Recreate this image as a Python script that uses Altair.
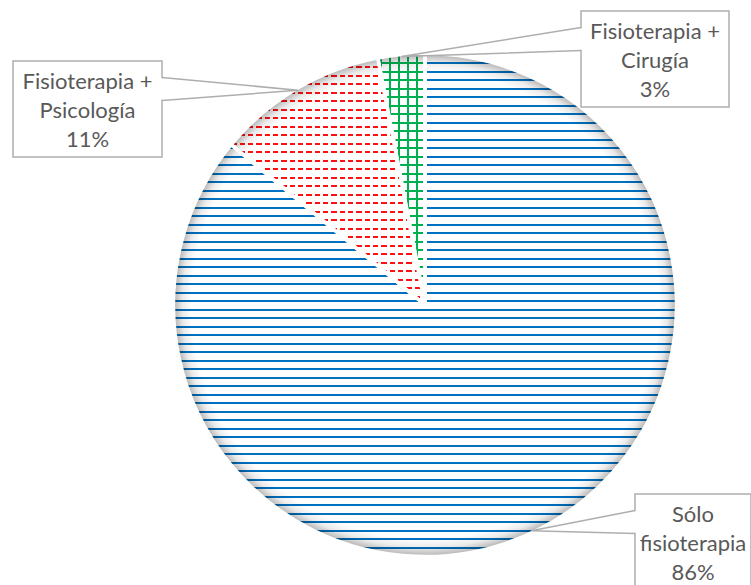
import math

import altair as alt
import pandas as pd

# ---- data -------------------------------------------------------------
categories = ["Sólo fisioterapia", "Fisioterapia + Psicología", "Fisioterapia + Cirugía"]
shares = [86, 11, 3]

# ---- layout / style ---------------------------------------------------
W, H = 751, 585
CX, CY = 425.0, 305.0          # pie centre
R_VIS = 249.5                  # visible pie radius
R = R_VIS + 2.0                # arc radius (outer 2px hidden by the white edge stroke)
ROW0, ROW_STEP = 63.2, 8.5     # horizontal pattern rows
CLEAR = "rgba(255,255,255,0)"

# callout boxes (left, top, right, bottom), one per category
callout_boxes = [(635, 494, 751, 600), (13, 61, 162, 157), (581, 11, 729, 107)]
BOX_GRAY = "#aeaeae"
TEXT_GRAY = "#595959"

total = float(sum(shares))
angles = []
acc = 0.0
for v in shares:
    a0 = acc / total * 2 * math.pi
    acc += v
    angles.append((a0, acc / total * 2 * math.pi))


def arc_bbox(a0, a1, r):
    pts = [(CX, CY),
           (CX + r * math.sin(a0), CY - r * math.cos(a0)),
           (CX + r * math.sin(a1), CY - r * math.cos(a1))]
    for k in range(5):
        a = k * math.pi / 2
        if a0 <= a <= a1:
            pts.append((CX + r * math.sin(a), CY - r * math.cos(a)))
    xs, ys = zip(*pts)
    return min(xs), min(ys), max(xs), max(ys)


def stripe_stops(lo, hi, positions, width, color, gap=CLEAR):
    span = hi - lo
    stops = [(0.0, gap)]
    for p in positions:
        a = (p - width / 2 - lo) / span
        b = (p + width / 2 - lo) / span
        if b <= 0 or a >= 1:
            continue
        a, b = max(a, 0.0), min(b, 1.0)
        stops += [(a, gap), (a, color), (b, color), (b, gap)]
    stops.append((1.0, gap))
    return [{"offset": round(o, 5), "color": c} for o, c in stops]


def h_stripes(bbox, rows, width, color):
    x0, y0, x1, y1 = bbox
    return {"gradient": "linear", "x1": 0, "y1": 0, "x2": 0, "y2": 1,
            "stops": stripe_stops(y0, y1, rows, width, color)}


def v_stripes(bbox, cols, width, color):
    x0, y0, x1, y1 = bbox
    return {"gradient": "linear", "x1": 0, "y1": 0, "x2": 1, "y2": 0,
            "stops": stripe_stops(x0, x1, cols, width, color)}


def rim_shade(bbox):
    # radial shading towards the pie edge, expressed in the slice's box
    x0, y0, x1, y1 = bbox
    w, h = x1 - x0, y1 - y0
    s = max(w, h)
    sx, sy = x0 + (w - s) / 2, y0 + (h - s) / 2
    cx, cy, rr = (CX - sx) / s, (CY - sy) / s, R / s
    f = lambda px: round(1 - px / R, 5)
    stops = [
        {"offset": 0, "color": "rgba(0,0,0,0)"},
        {"offset": f(18), "color": "rgba(0,0,0,0)"},
        {"offset": f(9), "color": "rgba(0,0,0,0.08)"},
        {"offset": f(2), "color": "rgba(0,0,0,0.26)"},
        {"offset": 1, "color": "rgba(0,0,0,0.29)"},
    ]
    return {"gradient": "radial", "x1": cx, "y1": cy, "r1": 0,
            "x2": cx, "y2": cy, "r2": rr, "stops": stops}


rows = [ROW0 + ROW_STEP * k for k in range(-2, 64)]
rows_red = [y + 4.0 for y in rows]
cols_red = [230 + 8.33 * j for j in range(-2, 30)]
cols_green = [390 + 9.0 * j for j in range(-3, 8)]

# ---- slice table ------------------------------------------------------
df = pd.DataFrame({"idx": list(range(len(categories))), "category": categories, "value": shares})

base = (
    alt.Chart(df)
    .transform_joinaggregate(total="sum(value)")
    .transform_calculate(share="datum.value / datum.total")
    .transform_stack(stack="share", groupby=[], as_=["s0", "s1"],
                     sort=[alt.SortField(field="idx", order="ascending")])
)

theta_enc = dict(
    theta=alt.Theta("s0:Q", scale=alt.Scale(domain=[0, 1], range=[0, 2 * math.pi])),
    theta2="s1:Q",
    x=alt.value(CX),
    y=alt.value(CY),
)


def slice_layer(name, fill):
    return (
        base.transform_filter(alt.datum.category == name)
        .mark_arc(outerRadius=R, fill=fill, strokeWidth=0)
        .encode(**theta_enc)
    )


layers = []
pattern_style = {
    categories[0]: [("h", rows, 2.2, "#0070C0")],
    categories[1]: [("h", rows_red, 2.0, "#FF1010"), ("v", cols_red, 3.0, "#FFFFFF")],
    categories[2]: [("h", rows, 2.0, "#00B050"), ("v", cols_green, 1.8, "#00B050")],
}
for name, (a0, a1) in zip(categories, angles):
    bbox = arc_bbox(a0, a1, R)
    for kind, pos, wdt, col in pattern_style[name]:
        grad = h_stripes(bbox, pos, wdt, col) if kind == "h" else v_stripes(bbox, pos, wdt, col)
        layers.append(slice_layer(name, grad))
    layers.append(slice_layer(name, rim_shade(bbox)))

# white separators and edge
layers.append(
    base.mark_arc(outerRadius=R, fillOpacity=0, stroke="white", strokeWidth=3.5, strokeJoin="round")
    .encode(**theta_enc)
)

# ---- callouts ---------------------------------------------------------
def label_text(name, v):
    if " + " in name:
        head = name.replace(" + ", " +\n")
    else:
        head = name.replace(" ", "\n", 1)
    return f"{head}\n{round(100 * v / total)}%"


box_rows, wedge_rows, gap_rows, text_rows = [], [], [], []
for i, (name, v, (a0, a1), (bx0, by0, bx1, by1)) in enumerate(
        zip(categories, shares, angles, callout_boxes)):
    mid = (a0 + a1) / 2
    tipx, tipy = CX + R_VIS * math.sin(mid), CY - R_VIS * math.cos(mid)
    edge = bx1 if (bx0 + bx1) / 2 < CX else bx0
    ya, yb = by0 + 16.5, by0 + 39.5
    box_rows.append({"x0": bx0, "x1": bx1, "y0": by0, "y1": by1})
    wedge_rows += [
        {"cid": i, "ord": 0, "px": edge, "py": ya},
        {"cid": i, "ord": 1, "px": tipx, "py": tipy},
        {"cid": i, "ord": 2, "px": edge, "py": yb},
    ]
    gap_rows.append({"gx": edge, "gy0": ya + 0.8, "gy1": yb - 0.8})
    text_rows.append({"tx": (bx0 + bx1) / 2, "ty": by0 + 28.3, "label": label_text(name, v)})

boxes = alt.Chart(pd.DataFrame(box_rows)).mark_rect(
    fill="white", stroke=BOX_GRAY, strokeWidth=1.5
).encode(
    x=alt.X("x0:Q", scale=None, axis=None), x2="x1:Q",
    y=alt.Y("y0:Q", scale=None, axis=None), y2="y1:Q",
)
gaps = alt.Chart(pd.DataFrame(gap_rows)).mark_rule(color="white", strokeWidth=3).encode(
    x=alt.X("gx:Q", scale=None, axis=None),
    y=alt.Y("gy0:Q", scale=None, axis=None), y2="gy1:Q",
)
wedges = alt.Chart(pd.DataFrame(wedge_rows)).mark_line(
    color=BOX_GRAY, strokeWidth=1.5, strokeJoin="miter"
).encode(
    x=alt.X("px:Q", scale=None, axis=None),
    y=alt.Y("py:Q", scale=None, axis=None),
    detail="cid:N", order="ord:Q",
)
texts = alt.Chart(pd.DataFrame(text_rows)).mark_text(
    font="Lato", fontSize=22, color=TEXT_GRAY, align="center", baseline="alphabetic",
    lineBreak="\n", lineHeight=29,
).encode(
    x=alt.X("tx:Q", scale=None, axis=None),
    y=alt.Y("ty:Q", scale=None, axis=None),
    text="label:N",
)

chart = (
    alt.layer(*layers, boxes, gaps, wedges, texts)
    .properties(width=W, height=H, padding=0, autosize="none", background="white")
    .configure_view(strokeWidth=0)
)

chart.save("out.html", embed_options={"renderer": "svg", "actions": False})
